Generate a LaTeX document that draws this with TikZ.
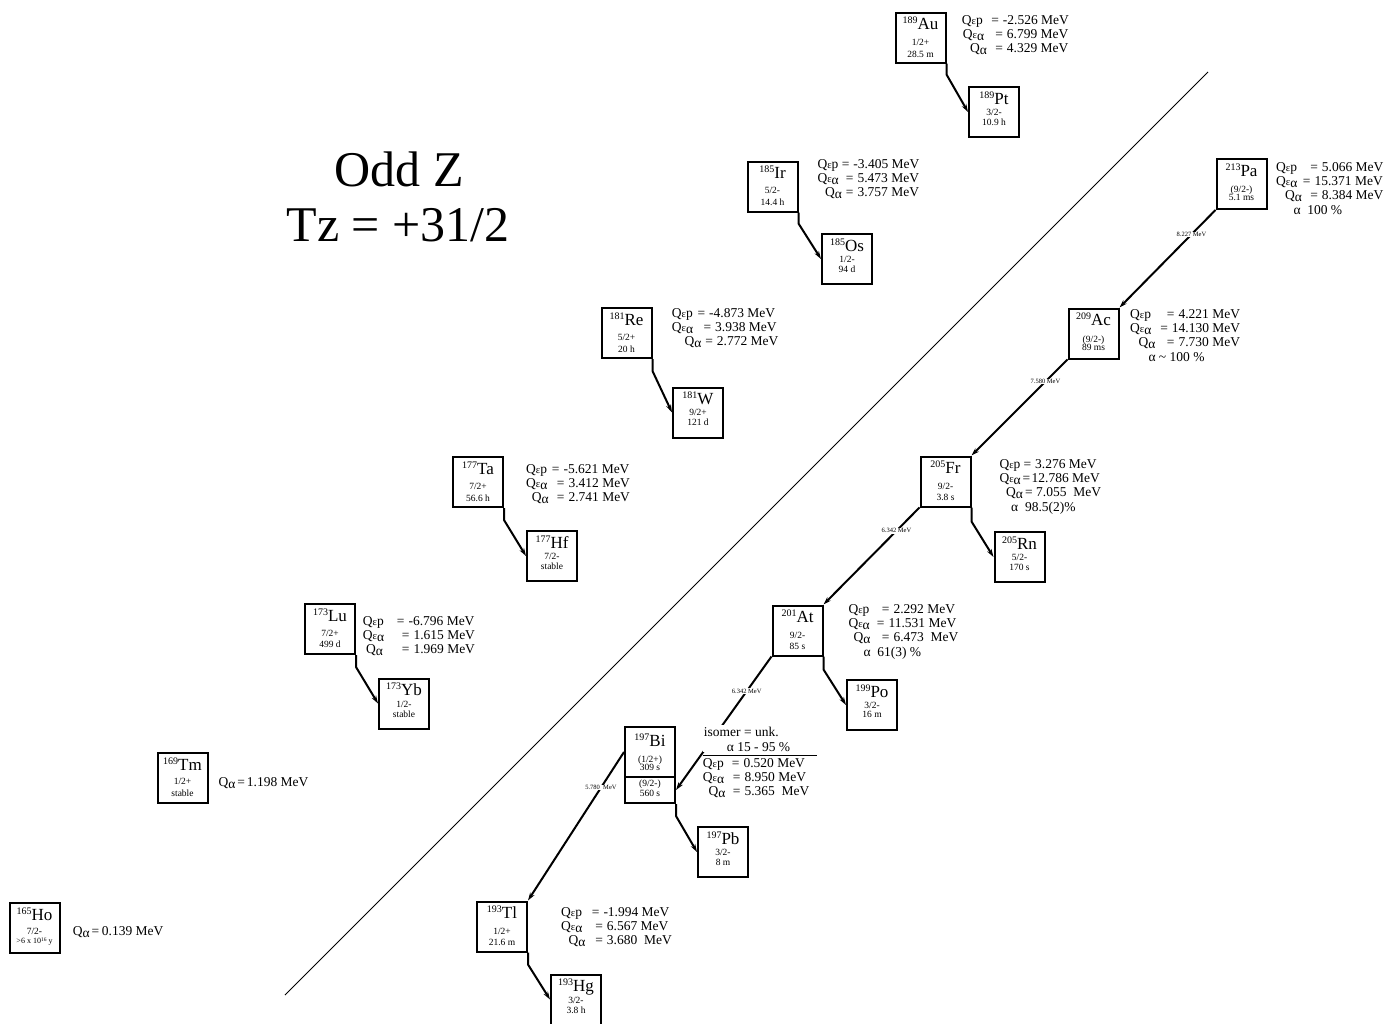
\documentclass[tikz,border=0pt]{standalone}
\usepackage{fontspec}
\setmainfont{Liberation Serif}
\usetikzlibrary{arrows.meta}
\tikzset{
  nbox/.style={draw, line width=2pt, minimum width=50pt, minimum height=50pt, inner sep=0pt},
  elt/.style={inner sep=0pt, anchor=base, font=\fontsize{17}{17}\selectfont},
  sml/.style={inner sep=0pt, anchor=base, font=\fontsize{9.5}{9.5}\selectfont},
  qtxt/.style={inner sep=0pt, anchor=base west, font=\fontsize{13.5}{13.5}\selectfont},
  conn/.style={line width=2pt, -{Stealth[length=8pt,width=5pt]}},
  alph/.style={line width=2pt, -{Stealth[length=8pt,width=5pt]}},
  mev/.style={fill=white, inner sep=0.6pt, font=\fontsize{6.5}{6.5}\selectfont},
  ttl/.style={font=\fontsize{50}{50}\selectfont, anchor=base, inner sep=0pt},
  thin/.style={line width=0.9pt},
}
\newcommand\Qep{Q{\fontsize{10.5}{10.5}\selectfont ε}p}
\newcommand\Qea{Q{\fontsize{10.5}{10.5}\selectfont ε}\raisebox{-2pt}{α}}
\newcommand\Qa{Q\raisebox{-2pt}{α}}
\newcommand\nuc[9]{%
  \node[nbox] (#1) at (#2,#3) {};
  \node[elt] (#1el) at ([yshift=-18pt]#1.north) {\raisebox{6pt}{\fontsize{10}{10}\selectfont #4}#5};
  \node[sml] (#1sp) at ([yshift=-#8pt]#1.north) {#6};
  \node[sml] (#1hl) at ([yshift=-#9pt]#1.north) {#7};
}
\newcommand\qline[6]{%
  \pgfmathsetmacro\qw{#4-#2}%
  \node[qtxt] (#1) at (#2,#3) {\makebox[\qw pt][s]{#5\hskip 2pt plus 1fill=\hskip 4pt minus 2.5pt}#6};
}
\newcommand\tline[4]{\node[qtxt] (#1) at (#2,#3) {#4};}
\begin{document}
\begin{tikzpicture}[x=1pt,y=-1pt]
\useasboundingbox (0,0) rectangle (1389,1023);
\fill[white] (0,0) rectangle (1389,1023);

% title
\node[ttl] (t1) at (399,186) {Odd Z};
\node[ttl] (t2) at (398,241) {Tz = +31/2};

% diagonal line
\coordinate (d1) at (285,995);
\coordinate (d2) at (1208,72);
\draw[thin] (d1) -- (d2);

% boxes
\nuc{Au}{920.5}{37.5}{189}{Au}{1/2+}{28.5 m}{34}{45.5}
\nuc{Pt}{994}{112}{189}{Pt}{3/2-}{10.9 h}{29.5}{39.5}
\nuc{Ir}{772.5}{186.5}{185}{Ir}{5/2-}{14.4 h}{33}{44.5}
\nuc{Os}{847}{259}{185}{Os}{1/2-}{94 d}{29.5}{39}
\nuc{Re}{626.5}{333}{181}{Re}{5/2+}{20 h}{33.5}{45}
\nuc{W}{698}{412.5}{181}{W}{9/2+}{121 d}{29}{39}
\nuc{Ta}{478}{482}{177}{Ta}{7/2+}{56.6 h}{33.5}{45}
\nuc{Hf}{552}{556}{177}{Hf}{7/2-}{stable}{29.5}{39.5}
\nuc{Lu}{330}{629}{173}{Lu}{7/2+}{499 d}{33.5}{44.5}
\nuc{Yb}{404}{703.5}{173}{Yb}{1/2-}{stable}{29.5}{39.5}
\nuc{Tm}{182.5}{778}{169}{Tm}{1/2+}{stable}{32.5}{44.5}
\nuc{Ho}{34.5}{928}{165}{Ho}{7/2-}{{\fontsize{8}{8}\selectfont >6 x 10\raisebox{2.5pt}{\fontsize{5.5}{5.5}\selectfont 16} y}}{32.5}{41.5}
\nuc{Pa}{1241.5}{184}{213}{Pa}{(9/2-)}{5.1 ms}{34}{42.5}
\nuc{Ac}{1093.5}{333.5}{209}{Ac}{(9/2-)}{89 ms}{34.5}{43}
\nuc{Fr}{945.5}{481.5}{205}{Fr}{9/2-}{3.8 s}{33.5}{44.5}
\nuc{Rn}{1019.5}{557}{205}{Rn}{5/2-}{170 s}{29.5}{39.5}
\nuc{At}{797.5}{630.5}{201}{At}{9/2-}{85 s}{34}{44.5}
\nuc{Po}{872}{705}{199}{Po}{3/2-}{16 m}{29}{38.5}
\nuc{Pb}{723}{852}{197}{Pb}{3/2-}{8 m}{29}{39}
\nuc{Tl}{502}{926.5}{193}{Tl}{1/2+}{21.6 m}{33.5}{44.5}
\nuc{Hg}{576}{999.5}{193}{Hg}{3/2-}{3.8 h}{29.5}{39.5}

% Bi with isomer
\node[nbox] (BiU) at (650,752) {};
\node[nbox, minimum height=26pt] (BiL) at (650,790) {};
\node[elt] (BiUel) at ([yshift=-20pt]BiU.north) {\raisebox{6pt}{\fontsize{10}{10}\selectfont 197}Bi};
\node[sml] (BiUsp) at ([yshift=-36pt]BiU.north) {(1/2+)};
\node[sml] (BiUhl) at ([yshift=-44.5pt]BiU.north) {309 s};
\node[sml] (BiLsp) at ([yshift=-10.5pt]BiL.north) {(9/2-)};
\node[sml] (BiLhl) at ([yshift=-20.5pt]BiL.north) {560 s};

% beta connectors
\draw[conn] (Au.south east) -- ++(0,11) -- (Pt.west);
\draw[conn] (Ir.south east) -- ++(0,11) -- (Os.west);
\draw[conn] (Re.south east) -- ++(0,12) -- (W.west);
\draw[conn] (Ta.south east) -- ++(0,12) -- (Hf.west);
\draw[conn] (Lu.south east) -- ++(0,12) -- (Yb.west);
\draw[conn] (Fr.south east) -- ++(0,14) -- (Rn.west);
\draw[conn] (At.south east) -- ++(0,13) -- (Po.west);
\draw[conn] (BiL.south east) -- ++(0,12) -- (Pb.west);
\draw[conn] (Tl.south east) -- ++(0,12) -- (Hg.west);

% alpha connectors
\draw[alph] (Pa.south west) -- node[mev, pos=0.25] (m1) {8.227 MeV} (Ac.north east);
\draw[alph] (Ac.south west) -- node[mev, pos=0.23] (m2) {7.580 MeV} (Fr.north east);
\draw[alph] (Fr.south west) -- node[mev, pos=0.24] (m3) {6.342 MeV} (At.north east);
\draw[alph] (At.south west) -- node[mev, pos=0.26] (m4) {6.342 MeV} (BiL.east);
\draw[alph] (BiU.west) -- node[mev, pos=0.24] (m5) {5.780\ \ MeV} (Tl.north east);

% Q texts
\qline{qAu1}{961.7}{24}{1002.7}{\Qep}{-2.526 MeV}
\qline{qAu2}{962.7}{38.3}{1006.7}{\Qea}{6.799 MeV}
\qline{qAu3}{970}{52}{1006.7}{\Qa}{4.329 MeV}

\qline{qIr1}{817.3}{168.3}{853.3}{\Qep}{-3.405 MeV}
\qline{qIr2}{817.3}{182.7}{857.3}{\Qea}{5.473 MeV}
\qline{qIr3}{825}{196.7}{857.3}{\Qa}{3.757 MeV}

\qline{qRe1}{671.7}{317.3}{709}{\Qep}{-4.873 MeV}
\qline{qRe2}{671.7}{331.7}{715}{\Qea}{3.938 MeV}
\qline{qRe3}{684.3}{345.7}{716.7}{\Qa}{2.772 MeV}

\qline{qTa1}{526}{473.3}{563.3}{\Qep}{-5.621 MeV}
\qline{qTa2}{526}{487.7}{568.3}{\Qea}{3.412 MeV}
\qline{qTa3}{531.7}{501}{568.3}{\Qa}{2.741 MeV}

\qline{qLu1}{362.7}{625}{408.3}{\Qep}{-6.796 MeV}
\qline{qLu2}{362.7}{639}{413.3}{\Qea}{1.615 MeV}
\qline{qLu3}{366}{653}{413.3}{\Qa}{1.969 MeV}

\qline{qTm}{218.3}{786}{246.7}{\Qa}{1.198 MeV}
\qline{qHo}{72.7}{935}{101.7}{\Qa}{0.139 MeV}

\qline{qTl1}{561}{916.7}{603.3}{\Qep}{-1.994 MeV}
\qline{qTl2}{561}{930.7}{606.7}{\Qea}{6.567 MeV}
\qline{qTl3}{568.3}{944.3}{606.7}{\Qa}{3.680\ \ MeV}

\node[qtxt, fill=white, inner xsep=1pt, text height=12pt, text depth=15pt] (qBi0) at (702.7,736.7) {isomer = unk.};
\tline{qBi1}{726.7}{751.7}{α 15 - 95 \%}
\coordinate (r1) at (702.7,755);
\coordinate (r2) at (817.3,755);
\draw[thin] (r1) -- (r2);
\qline{qBi2}{702.7}{767.3}{743.3}{\Qep}{0.520 MeV}
\qline{qBi3}{702.7}{781}{744.3}{\Qea}{8.950 MeV}
\qline{qBi4}{708.3}{795}{744.3}{\Qa}{5.365\ \ MeV}

\qline{qAt1}{848.3}{613.3}{893.3}{\Qep}{2.292 MeV}
\qline{qAt2}{848.3}{627.7}{888.3}{\Qea}{11.531 MeV}
\qline{qAt3}{853.3}{641.7}{893.3}{\Qa}{6.473\ \ MeV}
\tline{qAt4}{863.3}{656}{α\ \ 61(3) \%}

\qline{qFr1}{999.3}{468.3}{1035}{\Qep}{3.276 MeV}
\qline{qFr2}{999.3}{482.7}{1031.5}{\Qea}{12.786 MeV}
\qline{qFr3}{1006}{496.7}{1036}{\Qa}{7.055\ \ MeV}
\tline{qFr4}{1011}{511}{α\ \ 98.5(2)\%}

\qline{qAc1}{1130}{318.3}{1178.3}{\Qep}{4.221 MeV}
\qline{qAc2}{1130}{332.7}{1171.7}{\Qea}{14.130 MeV}
\qline{qAc3}{1138.3}{346.7}{1178.3}{\Qa}{7.730 MeV}
\tline{qAc4}{1148.3}{361}{α \textasciitilde\ 100 \%}

\qline{qPa1}{1276}{171.7}{1321.7}{\Qep}{5.066 MeV}
\qline{qPa2}{1276}{185.7}{1314.3}{\Qea}{15.371 MeV}
\qline{qPa3}{1285}{199.3}{1321.7}{\Qa}{8.384 MeV}
\tline{qPa4}{1293.3}{214.3}{α\ \ 100 \%}
\end{tikzpicture}
\end{document}
